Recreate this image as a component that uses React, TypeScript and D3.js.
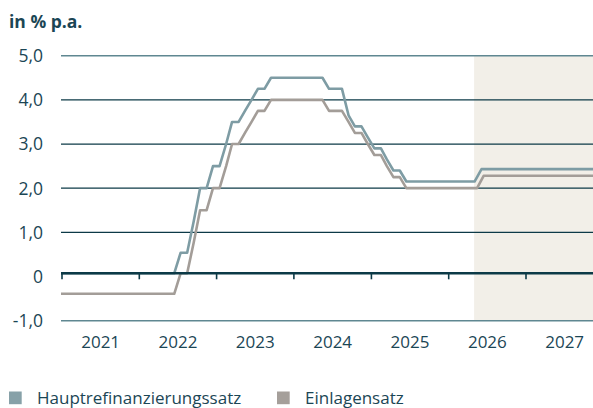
import React from "react";
import * as d3 from "d3";

// Leitzinsen der EZB (Monatswerte, Mitte des Monats), ab Mai 2026 Prognose
const mroPoints: [string, number][] = [
  ["2020-12-15", 0], ["2022-06-15", 0], ["2022-07-15", 0.5], ["2022-08-15", 0.5],
  ["2022-09-15", 1.25], ["2022-10-15", 2.0], ["2022-11-15", 2.0], ["2022-12-15", 2.5],
  ["2023-01-15", 2.5], ["2023-02-15", 3.0], ["2023-03-15", 3.5], ["2023-04-15", 3.5],
  ["2023-05-15", 3.75], ["2023-06-15", 4.0], ["2023-07-15", 4.25], ["2023-08-15", 4.25],
  ["2023-09-15", 4.5], ["2024-05-15", 4.5], ["2024-06-15", 4.25], ["2024-08-15", 4.25],
  ["2024-09-15", 3.65], ["2024-10-15", 3.4], ["2024-11-15", 3.4], ["2024-12-15", 3.15],
  ["2025-01-15", 2.9], ["2025-02-15", 2.9], ["2025-03-15", 2.65], ["2025-04-15", 2.4],
  ["2025-05-15", 2.4], ["2025-06-15", 2.15], ["2026-05-03", 2.15], ["2026-06-05", 2.43],
  ["2027-12-31", 2.43],
];

const dfrPoints: [string, number][] = [
  ["2020-12-15", -0.5], ["2022-06-15", -0.5], ["2022-07-15", 0], ["2022-08-15", 0],
  ["2022-09-15", 0.75], ["2022-10-15", 1.5], ["2022-11-15", 1.5], ["2022-12-15", 2.0],
  ["2023-01-15", 2.0], ["2023-02-15", 2.5], ["2023-03-15", 3.0], ["2023-04-15", 3.0],
  ["2023-05-15", 3.25], ["2023-06-15", 3.5], ["2023-07-15", 3.75], ["2023-08-15", 3.75],
  ["2023-09-15", 4.0], ["2024-05-15", 4.0], ["2024-06-15", 3.75], ["2024-08-15", 3.75],
  ["2024-09-15", 3.5], ["2024-10-15", 3.25], ["2024-11-15", 3.25], ["2024-12-15", 3.0],
  ["2025-01-15", 2.75], ["2025-02-15", 2.75], ["2025-03-15", 2.5], ["2025-04-15", 2.25],
  ["2025-05-15", 2.25], ["2025-06-15", 2.0], ["2026-05-15", 2.0], ["2026-06-15", 2.28],
  ["2027-12-31", 2.28],
];

const years = [2021, 2022, 2023, 2024, 2025, 2026, 2027];
const yTicks = [5, 4, 3, 2, 1, 0, -1];
const forecastStart = "2026-05-01";
const legendItems = ["Hauptrefinanzierungssatz", "Einlagensatz"];

const W = 593;
const H = 408;
const left = 61;
const font = "'Open Sans', sans-serif";
const textColor = "#1b4655";
const gridColor = "#0c3a47";
const frameColor = "#5f8791";
const mroColor = "#7e9ca4";
const dfrColor = "#a39d98";

const parse = d3.utcParse("%Y-%m-%d");
// Komma als Dezimalzeichen, einfacher Bindestrich als Minus
const fmt = (v: number) =>
  v === 0 ? "0" : (v < 0 ? "-" : "") + Math.abs(v).toFixed(1).replace(".", ",");

export default function App() {
  const x = d3
    .scaleUtc()
    .domain([new Date(Date.UTC(2021, 0, 1)), new Date(Date.UTC(2028, 0, 1))])
    .range([62, 603.3]);
  // Achsenbeschriftung linear
  const y = d3.scaleLinear().domain([-1, 5]).range([320.7, 55.7]);
  // die Kurven sitzen im Original unterhalb von 1 etwas höher
  const yData = d3.scaleLinear().domain([-0.5, 0, 1, 5]).range([293.8, 273.3, 232.3, 55.7]);

  const line = d3
    .line<[string, number]>()
    .x((d) => x(parse(d[0])!))
    .y((d) => yData(d[1]));

  const fx = x(parse(forecastStart)!);

  return (
    <svg width={W} height={H} style={{ position: "absolute", left: 0, top: 0 }} fontFamily={font}>
      <defs>
        <clipPath id="plot">
          <rect x={left} y={40} width={W - left} height={300} />
        </clipPath>
      </defs>

      <text x={9} y={28} fontSize={17.5} fontWeight={700} fill={textColor}>
        in % p.a.
      </text>

      {/* Prognosezeitraum */}
      <rect x={fx} y={y(5)} width={W - fx} height={y(-1) - y(5)} fill="#f2efe8" />

      {yTicks.map((t) => (
        <g key={t}>
          {t !== 0 && (
            <line
              x1={left}
              x2={W}
              y1={y(t)}
              y2={y(t)}
              stroke={t === 5 || t === -1 ? frameColor : gridColor}
              strokeWidth={t === 5 || t === -1 ? 1.6 : 1.3}
            />
          )}
          <text x={43} y={y(t)} dy="0.36em" textAnchor="end" fontSize={17.5} fill={textColor}>
            {fmt(t)}
          </text>
        </g>
      ))}

      <g clipPath="url(#plot)">
        <path d={line(dfrPoints)!} fill="none" stroke={dfrColor} strokeWidth={2.6} strokeLinejoin="round" />
        <path d={line(mroPoints)!} fill="none" stroke={mroColor} strokeWidth={2.6} strokeLinejoin="round" />
      </g>

      {/* Nulllinie mit Jahresmarken */}
      <line x1={left} x2={W} y1={yData(0)} y2={yData(0)} stroke={gridColor} strokeWidth={2.6} />
      {years.map((yr) => {
        const xt = x(new Date(Date.UTC(yr, 0, 1)));
        const xm = (xt + x(new Date(Date.UTC(yr + 1, 0, 1)))) / 2;
        return (
          <g key={yr}>
            <line x1={xt} x2={xt} y1={yData(0)} y2={yData(0) + 6} stroke={gridColor} strokeWidth={1.6} />
            <text x={xm} y={348.3} textAnchor="middle" fontSize={17} fill={textColor}>
              {yr}
            </text>
          </g>
        );
      })}

      {legendItems.map((name, i) => {
        const lx = i === 0 ? 9 : 277;
        return (
          <g key={name}>
            <rect x={lx} y={391.5} width={12.7} height={12.7} fill={i === 0 ? "#87a1a8" : "#a59f9a"} />
            <text x={lx + 28} y={403.5} fontSize={17} fill={textColor}>
              {name}
            </text>
          </g>
        );
      })}
    </svg>
  );
}
